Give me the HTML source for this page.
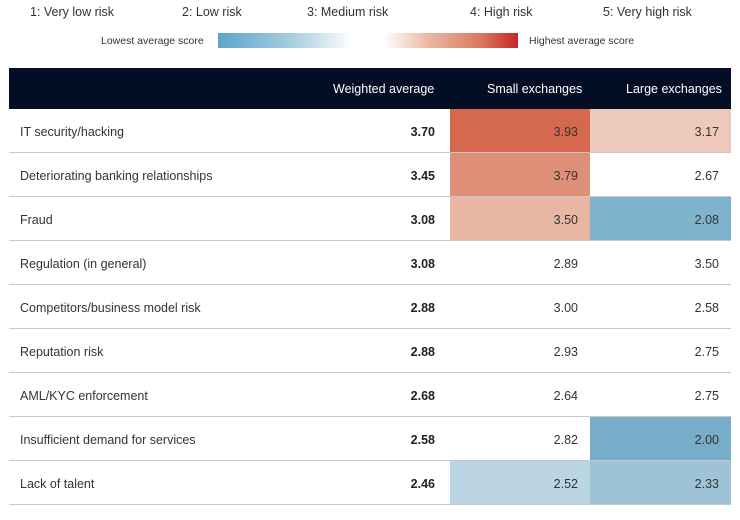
<!DOCTYPE html>
<html><head><style>
body{margin:0;width:740px;height:520px;background:#fff;font-family:"Liberation Sans",sans-serif;color:#333;position:relative;overflow:hidden}
.t{position:absolute;font-size:12.5px;color:#333;white-space:nowrap}
.s{position:absolute;font-size:10.5px;color:#333;white-space:nowrap}
.bar{position:absolute;left:218px;top:33px;width:300px;height:15px;background:linear-gradient(to right,#5aa6c9 0%,#a9cde0 25%,#fff 45%,#fff 55%,#eab9a5 70%,#d9765c 88%,#c8262a 100%)}
.hdr{position:absolute;left:9px;top:68px;width:722px;height:41px;background:#030e24;color:#fff;font-size:12.5px}
.hdr span{position:absolute;top:14px}
.row{position:absolute;left:9px;width:722px;height:43px;border-bottom:1px solid #c8c8c8;font-size:12.5px}
.row div{position:absolute;top:0;height:43px;line-height:46px}
.l{left:11px}
.w{left:280px;width:146px;text-align:right;font-weight:bold;color:#222}
.a{left:441px;width:140px;text-align:right;padding-right:0}
.b{left:581px;width:141px;text-align:right}
.a span,.b span{margin-right:12px}
</style></head><body>
<div class="t" style="left:30px;top:5px">1: Very low risk</div>
<div class="t" style="left:182px;top:5px">2: Low risk</div>
<div class="t" style="left:307px;top:5px">3: Medium risk</div>
<div class="t" style="left:470px;top:5px">4: High risk</div>
<div class="t" style="left:603px;top:5px">5: Very high risk</div>
<div class="s" style="left:101px;top:35px">Lowest average score</div>
<div class="bar"></div>
<div class="s" style="left:529px;top:35px">Highest average score</div>
<div class="hdr"><span style="left:324px">Weighted average</span><span style="left:478px">Small exchanges</span><span style="left:617px">Large exchanges</span></div>

<div class="row" style="top:109px"><div class="l">IT security/hacking</div><div class="w">3.70</div><div class="a" style="background:#d4694e"><span>3.93</span></div><div class="b" style="background:#ecc9bb"><span>3.17</span></div></div>
<div class="row" style="top:153px"><div class="l">Deteriorating banking relationships</div><div class="w">3.45</div><div class="a" style="background:#de8f77"><span>3.79</span></div><div class="b"><span>2.67</span></div></div>
<div class="row" style="top:197px"><div class="l">Fraud</div><div class="w">3.08</div><div class="a" style="background:#e9b6a4"><span>3.50</span></div><div class="b" style="background:#7fb2cb"><span>2.08</span></div></div>
<div class="row" style="top:241px"><div class="l">Regulation (in general)</div><div class="w">3.08</div><div class="a"><span>2.89</span></div><div class="b"><span>3.50</span></div></div>
<div class="row" style="top:285px"><div class="l">Competitors/business model risk</div><div class="w">2.88</div><div class="a"><span>3.00</span></div><div class="b"><span>2.58</span></div></div>
<div class="row" style="top:329px"><div class="l">Reputation risk</div><div class="w">2.88</div><div class="a"><span>2.93</span></div><div class="b"><span>2.75</span></div></div>
<div class="row" style="top:373px"><div class="l">AML/KYC enforcement</div><div class="w">2.68</div><div class="a"><span>2.64</span></div><div class="b"><span>2.75</span></div></div>
<div class="row" style="top:417px"><div class="l">Insufficient demand for services</div><div class="w">2.58</div><div class="a"><span>2.82</span></div><div class="b" style="background:#77adc8"><span>2.00</span></div></div>
<div class="row" style="top:461px"><div class="l">Lack of talent</div><div class="w">2.46</div><div class="a" style="background:#bcd5e3"><span>2.52</span></div><div class="b" style="background:#9ec3d7"><span>2.33</span></div></div>
</body></html>
